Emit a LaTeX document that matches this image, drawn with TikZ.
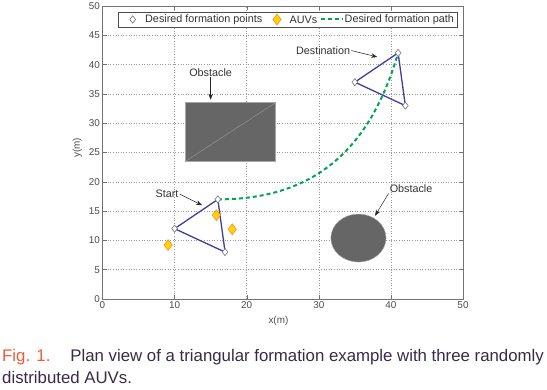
\documentclass[tikz,border=0pt]{standalone}
\usepackage{fontspec}
\setmainfont{Liberation Sans}
\usetikzlibrary{shapes.geometric,arrows.meta}
\definecolor{formblue}{RGB}{62,62,160}
\definecolor{pathgreen}{RGB}{0,165,80}
\definecolor{auvyellow}{RGB}{255,212,0}
\definecolor{auvorange}{RGB}{245,130,40}
\definecolor{obsgray}{RGB}{102,102,102}
\definecolor{figred}{RGB}{236,92,60}
\definecolor{captext}{RGB}{58,42,68}
\definecolor{axisgray}{RGB}{115,115,115}
\begin{document}
\begin{tikzpicture}[x=1pt,y=1pt,
  form point/.style={diamond,draw=black!55,fill=white,minimum width=6pt,minimum height=7.5pt,inner sep=0pt,line width=0.6pt},
  auv/.style={diamond,draw=auvorange,fill=auvyellow,minimum width=8.5pt,minimum height=11pt,inner sep=0pt,line width=0.5pt},
  form line/.style={formblue,line width=1.3pt},
  path line/.style={pathgreen,line width=2pt,dash pattern=on 4pt off 3pt},
  label/.style={font=\fontsize{10.8}{12}\selectfont,text=black!80,inner sep=1pt},
  tick label/.style={font=\fontsize{9.9}{11}\selectfont,text=black!70,inner sep=2.5pt},
  pointer/.style={-{Stealth[length=6pt,width=4.5pt]},black!85,line width=0.5pt},
  grid line/.style={black!40,line width=0.5pt,dash pattern=on 0.6pt off 2pt}]
\useasboundingbox (0,0) rectangle (547,390);
\begin{scope}[shift={(102.5pt,91pt)},x=7.21pt,y=5.86pt]
% grid and ticks
\foreach \gx in {10,20,30,40} {
  \draw[grid line] (\gx,0) -- (\gx,50);
  \draw[axisgray] (\gx,0) -- ++(0,4pt) (\gx,50) -- ++(0,-4pt);
}
\foreach \gy in {5,10,...,45} {
  \draw[grid line] (0,\gy) -- (50,\gy);
  \draw[axisgray] (0,\gy) -- ++(4pt,0) (50,\gy) -- ++(-4pt,0);
}
\foreach \gx in {0,10,...,50}
  \node[tick label,below] (xt\gx) at (\gx,0) {\gx};
\foreach \gy in {0,5,...,50}
  \node[tick label,left] (yt\gy) at (0,\gy) {\gy};
\draw[axisgray,line width=0.8pt] (0,0) rectangle (50,50);
\node[tick label] (xlab) at (24.4,-3.8) {x(m)};
\node[tick label,rotate=90] (ylab) at (-3.5,25.8) {y(m)};

% obstacles
\draw[draw=black!35,fill=obsgray] (11.5,23.5) rectangle (24,33.5);
\draw[black!45,line width=0.6pt] (11.5,23.5) -- (24,33.5);
\draw[draw=black!30,fill=obsgray] (35.5,10.4) ellipse [x radius=3.83, y radius=4.1];

% formation points
\coordinate (s1) at (16,17);
\coordinate (s2) at (10,12);
\coordinate (s3) at (17,8);
\coordinate (e1) at (41,42);
\coordinate (e2) at (35,37);
\coordinate (e3) at (42,33);
\draw[form line] (s1) -- (s2) -- (s3) -- cycle;
\draw[form line] (e1) -- (e2) -- (e3) -- cycle;
\draw[path line] (s1) .. controls (29,17) and (37,25) .. (e1);
\foreach \p in {s1,s2,s3,e1,e2,e3}
  \node[form point] at (\p) {};

% AUVs
\node[auv] (auv1) at (15.8,14.3) {};
\node[auv] (auv2) at (18,11.9) {};
\node[auv] (auv3) at (9.1,9.2) {};

% labels
\node[label] (start) at (8.95,17.9) {Start};
\node[label] (dest) at (30.6,42.4) {Destination};
\node[label] (obs1) at (15,38.7) {Obstacle};
\node[label] (obs2) at (42.8,18.9) {Obstacle};
\coordinate (starttip) at (13.8,16.0);
\coordinate (desttip) at (38.1,41.3);
\coordinate (obs1tip) at (15,34.0);
\coordinate (obs2tip) at (37.8,14.2);
\draw[pointer] (start.east) -- (starttip);
\draw[pointer] (dest.east) -- (desttip);
\draw[pointer] (obs1.south) -- (obs1tip);
\draw[pointer] (obs2.south west) -- (obs2tip);
\end{scope}

% legend
\draw[black!70,fill=white,line width=0.6pt] (118,363) rectangle (457,378);
\node[form point] (lg1) at (132.7,370.5) {};
\node[label,anchor=west] (lt1) at (144,370.5) {Desired formation points};
\node[auv] (lg2) at (277,370.5) {};
\node[label,anchor=west] (lt2) at (288.5,370.5) {AUVs};
\coordinate (lg3a) at (321,370.5);
\coordinate (lg3b) at (343,370.5);
\draw[path line] (lg3a) -- (lg3b);
\node[label,anchor=west] (lt3) at (343.5,370.5) {Desired formation path};

% caption
\node[anchor=base west,inner sep=0pt,font=\fontsize{16.8}{20}\selectfont,text=captext] (cap1) at (2,28)
  {\textcolor{figred}{Fig. 1.}\hspace{20pt}Plan view of a triangular formation example with three randomly};
\node[anchor=base west,inner sep=0pt,font=\fontsize{16.8}{20}\selectfont,text=captext] (cap2) at (2,6)
  {distributed AUVs.};
\end{tikzpicture}
\end{document}
